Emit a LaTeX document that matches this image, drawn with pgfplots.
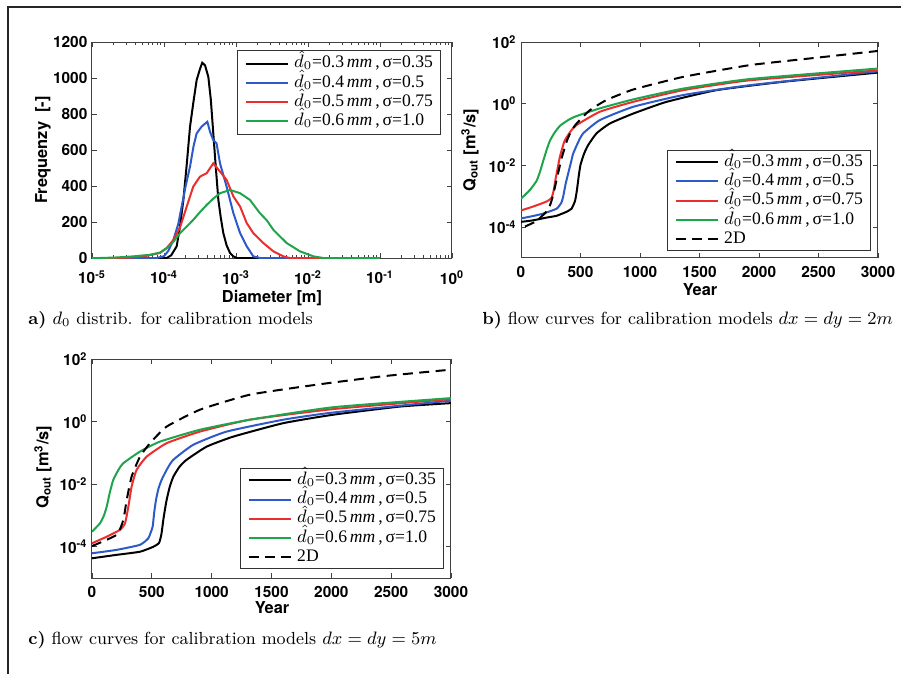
\documentclass[border=0pt]{standalone}
\usepackage{fontspec}
\setsansfont{TeX Gyre Heros}
\newfontfamily\legfont{Liberation Serif}
\usepackage{pgfplots}
\pgfplotsset{compat=1.18}
\definecolor{cblue}{RGB}{45,90,200}
\definecolor{cred}{RGB}{235,45,45}
\definecolor{cgreen}{RGB}{30,165,75}

\pgfplotsset{
  matax/.style={
    scale only axis,
    axis line style={black!75, line width=0.5pt},
    tick align=inside,
    major tick length=2.5pt, minor tick length=1.5pt,
    tick style={black!75, line width=0.4pt},
    ticklabel style={font=\sffamily\bfseries\fontsize{7.7}{8.5}\selectfont},
    yticklabel style={xshift=1.2pt},
    legend style={font=\legfont\fontsize{8.8}{9.6}\selectfont,
      draw=black!80, line width=0.5pt, cells={anchor=west},
      inner xsep=3.5pt, inner ysep=0.9pt,
      nodes={inner sep=0.3pt, text height=6.6pt, text depth=2.4pt},
      /tikz/every odd column/.append style={column sep=2.5pt}},
    legend image code/.code={\draw[#1] (0pt,0pt) -- (21pt,0pt);},
  },
  flowax/.style={
    xtick={0,500,1000,1500,2000,2500,3000},
    xticklabels={0,500,1000,1500,2000,2500,3000},
    xticklabel style={yshift=-0.8pt},
    ytick={1e-4,1e-2,1,1e2},
    yticklabels={10\textsuperscript{-4},10\textsuperscript{-2},10\textsuperscript{0},10\textsuperscript{2}},
    yminorticks=false, xminorticks=false,
  },
  crv/.style={line width=1pt, smooth, tension=0.3},
}
\newcommand{\lab}[1]{{\sffamily\bfseries\fontsize{8.2}{9.5}\selectfont #1}}
\newcommand{\capt}[1]{{\fontsize{8.75}{11}\selectfont #1}}

\begin{document}
\begin{tikzpicture}
\path[use as bounding box] (0,0) rectangle (450.5pt,-337pt);
\draw[line width=0.8pt, black!85] (4pt,-337pt) -- (4pt,-3.5pt) -- (450.5pt,-3.5pt);

% a) diameter distributions
\begin{axis}[matax,
  at={(46pt,-21pt)}, anchor=north west, width=180pt, height=108pt,
  xmode=log, xmin=1e-5, xmax=1, ymin=0, ymax=1200,
  xtick={1e-5,1e-4,1e-3,1e-2,1e-1,1},
  xticklabels={10\textsuperscript{-5},10\textsuperscript{-4},10\textsuperscript{-3},10\textsuperscript{-2},10\textsuperscript{-1},10\textsuperscript{0}},
  xticklabel style={yshift=-2.8pt},
  minor xtick={2e-5,3e-5,4e-5,5e-5,6e-5,7e-5,8e-5,9e-5,
    2e-4,3e-4,4e-4,5e-4,6e-4,7e-4,8e-4,9e-4,
    2e-3,3e-3,4e-3,5e-3,6e-3,7e-3,8e-3,9e-3,
    2e-2,3e-2,4e-2,5e-2,6e-2,7e-2,8e-2,9e-2,
    2e-1,3e-1,4e-1,5e-1,6e-1,7e-1,8e-1,9e-1},
  ytick={0,200,400,600,800,1000,1200},
  yticklabels={0,200,400,600,800,1000,1200},
  legend style={at={(1,1)}, anchor=north east, xshift=-5.5pt, yshift=-4pt,
    inner ysep=1.8pt},
]
\addplot[black, line width=1pt] coordinates {
  (1e-5,0) (1.09e-4,0) (1.26e-4,15) (1.50e-4,65) (1.66e-4,170) (1.86e-4,323)
  (2.07e-4,520) (2.30e-4,730) (2.57e-4,870) (2.84e-4,988) (3.16e-4,1050)
  (3.40e-4,1085) (3.72e-4,1070) (4.13e-4,1006) (4.47e-4,880) (4.84e-4,692)
  (5.25e-4,500) (5.69e-4,323) (6.17e-4,220) (6.67e-4,138) (7.41e-4,70)
  (8.26e-4,28) (9.12e-4,10) (1.02e-3,0) (1e-1,0)
};
\addlegendentry{$\hat{d}_0$=0.3\,\textit{mm}\,,\,σ=0.35}
\addplot[cblue, line width=1pt] coordinates {
  (1e-5,0) (7.9e-5,0) (1.0e-4,10) (1.15e-4,40) (1.35e-4,100) (1.58e-4,190)
  (1.76e-4,286) (2.0e-4,400) (2.30e-4,508) (2.57e-4,620) (2.84e-4,692)
  (3.33e-4,730) (4.0e-4,757) (4.37e-4,700) (4.84e-4,655) (5.37e-4,637)
  (6.0e-4,526) (7.4e-4,397) (9.2e-4,249) (1.14e-3,138) (1.41e-3,65)
  (1.74e-3,9) (2.15e-3,0) (1e-1,0)
};
\addlegendentry{$\hat{d}_0$=0.4\,\textit{mm}\,,\,σ=0.5}
\addplot[cred, line width=1pt] coordinates {
  (1e-5,0) (2.2e-5,0) (3.75e-5,3) (5.7e-5,12) (8.8e-5,28) (1.09e-4,55)
  (1.35e-4,100) (1.67e-4,170) (2.07e-4,286) (2.55e-4,397) (3.16e-4,452)
  (3.92e-4,471) (4.84e-4,526) (6.0e-4,480) (7.4e-4,434) (9.2e-4,342)
  (1.14e-3,286) (1.41e-3,194) (1.74e-3,138) (2.40e-3,83) (3.30e-3,37)
  (4.54e-3,9) (5.6e-3,0) (1e-1,0)
};
\addlegendentry{$\hat{d}_0$=0.5\,\textit{mm}\,,\,σ=0.75}
\addplot[cgreen, line width=1pt] coordinates {
  (1e-5,0) (1.3e-5,0) (2.2e-5,3) (3.75e-5,9) (6.4e-5,18) (8.8e-5,30)
  (1.09e-4,55) (1.35e-4,90) (1.67e-4,138) (2.07e-4,175) (2.55e-4,212)
  (3.16e-4,255) (3.92e-4,295) (4.84e-4,330) (6.0e-4,360) (8.26e-4,378)
  (1.14e-3,360) (1.56e-3,323) (2.15e-3,249) (2.67e-3,210) (3.30e-3,157)
  (4.08e-3,120) (5.06e-3,83) (7.74e-3,37) (1.19e-2,9) (1.63e-2,0) (1e-1,0)
};
\addlegendentry{$\hat{d}_0$=0.6\,\textit{mm}\,,\,σ=1.0}
\end{axis}

% b) flow curves dx=dy=2m
\begin{axis}[matax, flowax,
  at={(260.5pt,-21pt)}, anchor=north west, width=178.5pt, height=108pt,
  xmin=0, xmax=3000, ymode=log, ymin=1e-5, ymax=1e2,
  legend style={at={(1,0)}, anchor=south east, xshift=-3.5pt, yshift=3.5pt},
]
\addplot[black, crv] coordinates {
  (0,1.48e-4) (100,1.66e-4) (215,2.04e-4) (300,2.34e-4) (384,3.16e-4)
  (425,3.98e-4) (454,7.08e-4) (470,1.58e-3) (485,4.47e-3) (500,1.05e-2)
  (530,2.40e-2) (563,4.47e-2) (635,0.110) (747,0.229) (943,0.479)
  (1223,1.15) (1643,2.75) (2202,5.13) (3000,10.2)
};
\addlegendentry{$\hat{d}_0$=0.3\,\textit{mm}\,,\,σ=0.35}
\addplot[cblue, crv] coordinates {
  (0,1.91e-4) (100,2.29e-4) (187,2.75e-4) (300,3.98e-4) (340,6.31e-4)
  (355,1.0e-3) (375,2.51e-3) (397,5.62e-3) (420,1.26e-2) (439,2.45e-2)
  (480,5.62e-2) (523,0.110) (663,0.295) (943,0.794) (1363,1.91)
  (1923,3.98) (3000,11.2)
};
\addlegendentry{$\hat{d}_0$=0.4\,\textit{mm}\,,\,σ=0.5}
\addplot[cred, crv] coordinates {
  (0,3.47e-4) (104,4.68e-4) (215,6.76e-4) (257,8.91e-4) (275,1.58e-3)
  (290,3.55e-3) (310,8.91e-3) (327,1.91e-2) (350,3.98e-2) (369,6.61e-2)
  (420,0.132) (467,0.204) (663,0.550) (943,1.15) (1363,2.75)
  (1923,5.75) (3000,12.0)
};
\addlegendentry{$\hat{d}_0$=0.5\,\textit{mm}\,,\,σ=0.75}
\addplot[cgreen, crv] coordinates {
  (0,8.32e-4) (76,1.62e-3) (131,3.16e-3) (160,6.31e-3) (187,1.41e-2)
  (215,3.16e-2) (243,6.31e-2) (280,0.112) (327,0.191) (400,0.302)
  (467,0.398) (663,0.708) (943,1.38) (1363,3.09) (1923,6.31) (3000,13.8)
};
\addlegendentry{$\hat{d}_0$=0.6\,\textit{mm}\,,\,σ=1.0}
\addplot[black, crv, dash pattern=on 5pt off 3.2pt] coordinates {
  (34,1.05e-4) (130,1.58e-4) (227,3.63e-4) (260,7.94e-4) (286,2.04e-3)
  (315,6.31e-3) (342,1.74e-2) (383,5.89e-2) (420,0.126) (467,0.229)
  (579,0.617) (719,1.32) (943,2.88) (1363,7.41) (1923,17.8)
  (2482,30.9) (3000,51.3)
};
\addlegendentry{2D}
\end{axis}

% c) flow curves dx=dy=5m
\begin{axis}[matax, flowax,
  at={(46pt,-179.5pt)}, anchor=north west, width=179.5pt, height=109.5pt,
  xmin=0, xmax=3000, ymode=log, ymin=1e-5, ymax=1e2,
  legend style={at={(1,0)}, anchor=south east, xshift=-3.5pt, yshift=4.5pt},
]
\addplot[black, crv] coordinates {
  (0,4.27e-5) (206,5.50e-5) (401,6.92e-5) (513,1.0e-4) (560,1.32e-4)
  (580,2.51e-4) (596,7.24e-4) (610,1.58e-3) (624,3.16e-3) (650,8.32e-3)
  (680,1.74e-2) (730,3.55e-2) (791,6.03e-2) (958,0.158) (1181,0.331)
  (1599,0.891) (2017,1.66) (2574,3.02) (3000,3.89)
};
\addlegendentry{$\hat{d}_0$=0.3\,\textit{mm}\,,\,σ=0.35}
\addplot[cblue, crv] coordinates {
  (0,6.17e-5) (206,7.94e-5) (401,1.15e-4) (471,1.86e-4) (490,2.82e-4)
  (507,4.37e-4) (520,1.26e-3) (535,3.16e-3) (555,7.08e-3) (582,1.38e-2)
  (630,3.16e-2) (680,6.03e-2) (847,0.182) (1125,0.479) (1599,1.15)
  (2017,1.95) (3000,4.68)
};
\addlegendentry{$\hat{d}_0$=0.4\,\textit{mm}\,,\,σ=0.5}
\addplot[cred, crv] coordinates {
  (0,1.29e-4) (123,2.09e-4) (234,3.47e-4) (276,5.62e-4) (304,1.91e-3)
  (331,8.32e-3) (373,2.88e-2) (457,7.59e-2) (624,0.204) (903,0.479)
  (1320,1.15) (2017,2.51) (3000,5.25)
};
\addlegendentry{$\hat{d}_0$=0.5\,\textit{mm}\,,\,σ=0.75}
\addplot[cgreen, crv] coordinates {
  (0,3.02e-4) (67,5.62e-4) (100,1.0e-3) (123,1.91e-3) (150,5.62e-3)
  (178,1.38e-2) (220,2.82e-2) (262,4.68e-2) (401,0.110) (568,0.229)
  (903,0.550) (1320,1.15) (2017,2.88) (3000,5.62)
};
\addlegendentry{$\hat{d}_0$=0.6\,\textit{mm}\,,\,σ=1.0}
\addplot[black, crv, dash pattern=on 5pt off 3.2pt] coordinates {
  (0,1.05e-4) (206,2.40e-4) (262,7.24e-4) (290,3.16e-3) (331,1.74e-2)
  (401,7.59e-2) (485,0.204) (624,0.692) (903,2.40) (1320,7.24)
  (1877,15.1) (2435,28.2) (3000,45.7)
};
\addlegendentry{2D}
\end{axis}

% axis labels and captions
\node[rotate=90] at (21.5pt,-75pt) {\lab{Frequenzy\ \ [-]}};
\node at (136pt,-148.8pt) {\lab{Diameter [m]}};
\node[rotate=90] at (235pt,-75pt) {\lab{Q\textsubscript{out} [m\textsuperscript{3}/s]}};
\node at (350pt,-145pt) {\lab{Year}};
\node[rotate=90] at (21.5pt,-233.5pt) {\lab{Q\textsubscript{out} [m\textsuperscript{3}/s]}};
\node at (136pt,-304pt) {\lab{Year}};

\node[anchor=west, inner sep=0pt] at (14pt,-160pt) {\capt{\textbf{a)} $d_0$ distrib. for calibration models}};
\node[anchor=west, inner sep=0pt] at (241pt,-160pt) {\capt{\textbf{b)} flow curves for calibration models $dx=dy=2m$}};
\node[anchor=west, inner sep=0pt] at (14pt,-320pt) {\capt{\textbf{c)} flow curves for calibration models $dx=dy=5m$}};
\end{tikzpicture}
\end{document}
